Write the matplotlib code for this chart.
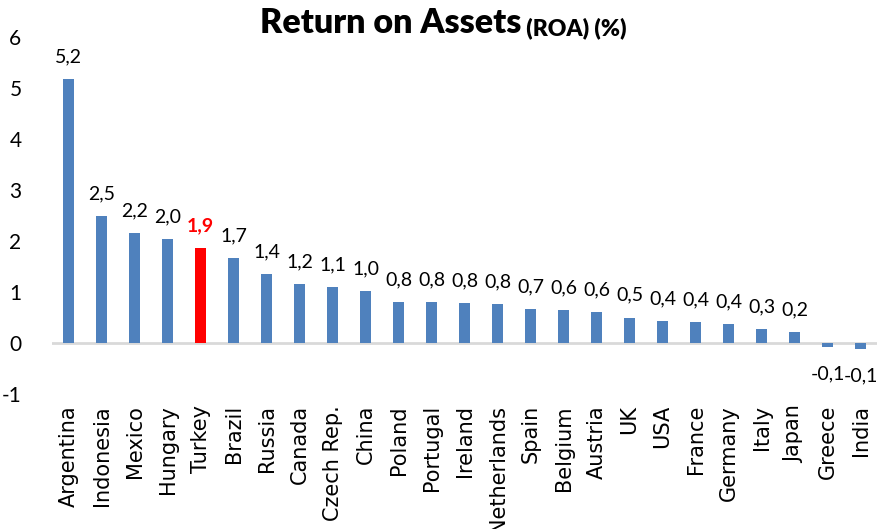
import matplotlib
matplotlib.use('Agg')
import matplotlib.pyplot as plt

# data
countries = ['Argentina', 'Indonesia', 'Mexico', 'Hungary', 'Turkey', 'Brazil', 'Russia',
             'Canada', 'Czech Rep.', 'China', 'Poland', 'Portugal', 'Ireland', 'Netherlands',
             'Spain', 'Belgium', 'Austria', 'UK', 'USA', 'France', 'Germany', 'Italy',
             'Japan', 'Greece', 'India']
roa = [5.18, 2.49, 2.16, 2.04, 1.87, 1.66, 1.36, 1.16, 1.10, 1.02, 0.81, 0.80, 0.79, 0.76,
       0.66, 0.64, 0.60, 0.50, 0.43, 0.42, 0.37, 0.28, 0.22, -0.08, -0.12]
highlight = 'Turkey'
y_ticks = [-1, 0, 1, 2, 3, 4, 5, 6]

blue = '#4F81BD'
red = '#FF0000'

plt.rcParams['font.family'] = ['Lato', 'DejaVu Sans']

fig = plt.figure(figsize=(8.77, 5.29), dpi=100)
ax = fig.add_axes([0.0593, 0.2552, 0.9407, 0.6748])

x = list(range(len(countries)))
colors = [red if c == highlight else blue for c in countries] # Turkey stands out
ax.bar(x, roa, width=0.36, color=colors, zorder=2)

for i, v in enumerate(roa): # value labels with comma decimals
    label = f"{v:.1f}".replace('.', ',')
    is_hl = countries[i] == highlight
    if v >= 0:
        ax.annotate(label, (i, v), xytext=(0, 12), textcoords='offset points',
                    ha='center', va='baseline', fontsize=14,
                    color=red if is_hl else 'black',
                    fontweight='bold' if is_hl else 'normal')
    else:
        ax.annotate(label, (i, v), xytext=(0, -13), textcoords='offset points',
                    ha='center', va='top', fontsize=14, color='black')

ax.axhline(0, color='#D9D9D9', linewidth=2, zorder=1)
ax.set_xlim(-0.5, len(countries) - 0.5)
ax.set_ylim(-1, 6)
ax.set_yticks(y_ticks)
ax.set_yticklabels([str(t) for t in y_ticks], fontsize=15)
ax.set_xticks(x)
ax.set_xticklabels(countries, rotation=90, fontsize=15, family='DejaVu Sans')
ax.tick_params(axis='y', length=0, pad=22)
ax.tick_params(axis='x', length=0, pad=8)
for s in ax.spines.values():
    s.set_visible(False)

t1 = fig.text(0.2965, 0.938, 'Return on Assets', fontsize=24.5, fontweight='heavy',
              ha='left', va='baseline')
ax.annotate(' (ROA) (%)', xy=(1, 0), xycoords=t1, va='bottom', ha='left',
            fontsize=16.5, fontweight='heavy')

fig.savefig('out.png', dpi=100)
